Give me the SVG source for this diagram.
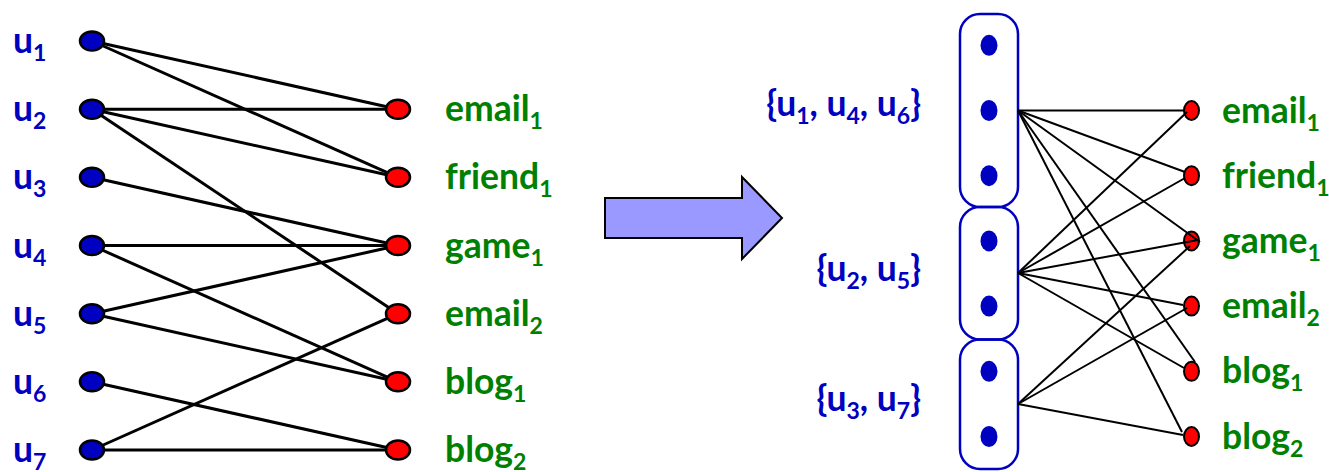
<svg xmlns="http://www.w3.org/2000/svg" width="1329" height="472" viewBox="0 0 1329 472">
  <defs>
    <style>
      .lbl { font-family: Lato, "Liberation Sans", sans-serif; font-weight: bold; font-size: 35.5px; }
      .user { fill: #0000C0; }
      .item { fill: #008000; }
      .sub { font-size: 23px; }
      .unode { fill: #0000C0; stroke: #000; stroke-width: 2.5; }
      .inode { fill: #FF0000; stroke: #000; stroke-width: 2.5; }
      .inode-s { fill: #FF0000; stroke: #000; stroke-width: 2; }
      .dot { fill: #0000C0; }
      .box { fill: none; stroke: #0000C0; stroke-width: 2.5; }
      .edge { stroke: #000; stroke-width: 3; fill: none; }
      .edge-s { stroke: #000; stroke-width: 2; fill: none; }
      .arrow { fill: #9999FF; stroke: #000; stroke-width: 2; }
    </style>
  </defs>

  <!-- bipartite graph: users (left) to items (right) -->
  <g id="left-edges">
    <line class="edge" x1="92" y1="41" x2="398" y2="109.2"/>
    <line class="edge" x1="92" y1="41" x2="398" y2="177.3"/>
    <line class="edge" x1="92" y1="109.2" x2="398" y2="109.2"/>
    <line class="edge" x1="92" y1="109.2" x2="398" y2="177.3"/>
    <line class="edge" x1="92" y1="109.2" x2="398" y2="313.7"/>
    <line class="edge" x1="92" y1="177.3" x2="398" y2="245.5"/>
    <line class="edge" x1="92" y1="245.5" x2="398" y2="245.5"/>
    <line class="edge" x1="92" y1="245.5" x2="398" y2="381.8"/>
    <line class="edge" x1="92" y1="313.7" x2="398" y2="245.5"/>
    <line class="edge" x1="92" y1="313.7" x2="398" y2="381.8"/>
    <line class="edge" x1="92" y1="381.8" x2="398" y2="450"/>
    <line class="edge" x1="92" y1="450" x2="398" y2="313.7"/>
    <line class="edge" x1="92" y1="450" x2="398" y2="450"/>
  </g>

  <g id="u1"><ellipse class="unode" cx="92" cy="41" rx="12" ry="9.5"/><text class="lbl user" x="13" y="53">u<tspan class="sub" dy="8">1</tspan></text></g>
  <g id="u2"><ellipse class="unode" cx="92" cy="109.2" rx="12" ry="9.5"/><text class="lbl user" x="13" y="121.2">u<tspan class="sub" dy="8">2</tspan></text></g>
  <g id="u3"><ellipse class="unode" cx="92" cy="177.3" rx="12" ry="9.5"/><text class="lbl user" x="13" y="189.3">u<tspan class="sub" dy="8">3</tspan></text></g>
  <g id="u4"><ellipse class="unode" cx="92" cy="245.5" rx="12" ry="9.5"/><text class="lbl user" x="13" y="257.5">u<tspan class="sub" dy="8">4</tspan></text></g>
  <g id="u5"><ellipse class="unode" cx="92" cy="313.7" rx="12" ry="9.5"/><text class="lbl user" x="13" y="325.7">u<tspan class="sub" dy="8">5</tspan></text></g>
  <g id="u6"><ellipse class="unode" cx="92" cy="381.8" rx="12" ry="9.5"/><text class="lbl user" x="13" y="393.8">u<tspan class="sub" dy="8">6</tspan></text></g>
  <g id="u7"><ellipse class="unode" cx="92" cy="450" rx="12" ry="9.5"/><text class="lbl user" x="13" y="462">u<tspan class="sub" dy="8">7</tspan></text></g>

  <g id="email1-a"><ellipse class="inode" cx="398" cy="109.2" rx="12" ry="9.5"/><text class="lbl item" x="445" y="121.2">email<tspan class="sub" dy="8">1</tspan></text></g>
  <g id="friend1-a"><ellipse class="inode" cx="398" cy="177.3" rx="12" ry="9.5"/><text class="lbl item" x="445" y="189.3">friend<tspan class="sub" dy="8">1</tspan></text></g>
  <g id="game1-a"><ellipse class="inode" cx="398" cy="245.5" rx="12" ry="9.5"/><text class="lbl item" x="445" y="257.5">game<tspan class="sub" dy="8">1</tspan></text></g>
  <g id="email2-a"><ellipse class="inode" cx="398" cy="313.7" rx="12" ry="9.5"/><text class="lbl item" x="445" y="325.7">email<tspan class="sub" dy="8">2</tspan></text></g>
  <g id="blog1-a"><ellipse class="inode" cx="398" cy="381.8" rx="12" ry="9.5"/><text class="lbl item" x="445" y="393.8">blog<tspan class="sub" dy="8">1</tspan></text></g>
  <g id="blog2-a"><ellipse class="inode" cx="398" cy="450" rx="12" ry="9.5"/><text class="lbl item" x="445" y="462">blog<tspan class="sub" dy="8">2</tspan></text></g>

  <!-- block arrow -->
  <g id="transform-arrow">
    <polygon class="arrow" points="605,198 742,198 742,177 782,218 742,259 742,238 605,238"/>
  </g>

  <!-- grouped users -->
  <g id="group-u1-u4-u6">
    <rect class="box" x="960" y="14" width="58" height="193" rx="20" ry="20"/>
    <ellipse class="dot" cx="989" cy="45.3" rx="8.5" ry="10.5"/>
    <ellipse class="dot" cx="989" cy="110.5" rx="8.5" ry="10.5"/>
    <ellipse class="dot" cx="989" cy="175.7" rx="8.5" ry="10.5"/>
    <text class="lbl user" x="921" y="116" text-anchor="end">{u<tspan class="sub" dy="8">1</tspan><tspan dy="-8">, u</tspan><tspan class="sub" dy="8">4</tspan><tspan dy="-8">, u</tspan><tspan class="sub" dy="8">6</tspan><tspan dy="-8">}</tspan></text>
  </g>
  <g id="group-u2-u5">
    <rect class="box" x="960" y="207" width="58" height="132.5" rx="20" ry="20"/>
    <ellipse class="dot" cx="989" cy="240.9" rx="8.5" ry="10.5"/>
    <ellipse class="dot" cx="989" cy="306.1" rx="8.5" ry="10.5"/>
    <text class="lbl user" x="921" y="281" text-anchor="end">{u<tspan class="sub" dy="8">2</tspan><tspan dy="-8">, u</tspan><tspan class="sub" dy="8">5</tspan><tspan dy="-8">}</tspan></text>
  </g>
  <g id="group-u3-u7">
    <rect class="box" x="960" y="339.5" width="58" height="129.5" rx="20" ry="20"/>
    <ellipse class="dot" cx="989" cy="371.3" rx="8.5" ry="10.5"/>
    <ellipse class="dot" cx="989" cy="436.5" rx="8.5" ry="10.5"/>
    <text class="lbl user" x="921" y="411" text-anchor="end">{u<tspan class="sub" dy="8">3</tspan><tspan dy="-8">, u</tspan><tspan class="sub" dy="8">7</tspan><tspan dy="-8">}</tspan></text>
  </g>

  <!-- items (right) -->
  <g id="email1-b"><ellipse class="inode-s" cx="1191.5" cy="110.5" rx="7.5" ry="9.5"/><text class="lbl item" x="1222" y="122.5">email<tspan class="sub" dy="8">1</tspan></text></g>
  <g id="friend1-b"><ellipse class="inode-s" cx="1191.5" cy="175.7" rx="7.5" ry="9.5"/><text class="lbl item" x="1222" y="187.7">friend<tspan class="sub" dy="8">1</tspan></text></g>
  <g id="game1-b"><ellipse class="inode-s" cx="1191.5" cy="240.9" rx="7.5" ry="9.5"/><text class="lbl item" x="1222" y="252.9">game<tspan class="sub" dy="8">1</tspan></text></g>
  <g id="email2-b"><ellipse class="inode-s" cx="1191.5" cy="306.1" rx="7.5" ry="9.5"/><text class="lbl item" x="1222" y="318.1">email<tspan class="sub" dy="8">2</tspan></text></g>
  <g id="blog1-b"><ellipse class="inode-s" cx="1191.5" cy="371.3" rx="7.5" ry="9.5"/><text class="lbl item" x="1222" y="383.3">blog<tspan class="sub" dy="8">1</tspan></text></g>
  <g id="blog2-b"><ellipse class="inode-s" cx="1191.5" cy="436.5" rx="7.5" ry="9.5"/><text class="lbl item" x="1222" y="448.5">blog<tspan class="sub" dy="8">2</tspan></text></g>

  <!-- grouped users to items -->
  <g id="right-edges">
    <line class="edge-s" x1="1018" y1="110.5" x2="1184" y2="110.5"/>
    <line class="edge-s" x1="1018" y1="110.5" x2="1185" y2="172"/>
    <line class="edge-s" x1="1018" y1="110.5" x2="1200" y2="242"/>
    <line class="edge-s" x1="1018" y1="110.5" x2="1195" y2="362"/>
    <line class="edge-s" x1="1018" y1="110.5" x2="1182" y2="432"/>
    <line class="edge-s" x1="1018" y1="273" x2="1187" y2="112"/>
    <line class="edge-s" x1="1018" y1="273" x2="1185" y2="178"/>
    <line class="edge-s" x1="1018" y1="273" x2="1198" y2="240"/>
    <line class="edge-s" x1="1018" y1="273" x2="1183" y2="305"/>
    <line class="edge-s" x1="1018" y1="273" x2="1184" y2="368"/>
    <line class="edge-s" x1="1018" y1="404" x2="1190" y2="246"/>
    <line class="edge-s" x1="1018" y1="404" x2="1187" y2="308"/>
    <line class="edge-s" x1="1018" y1="404" x2="1183" y2="435"/>
  </g>
</svg>
